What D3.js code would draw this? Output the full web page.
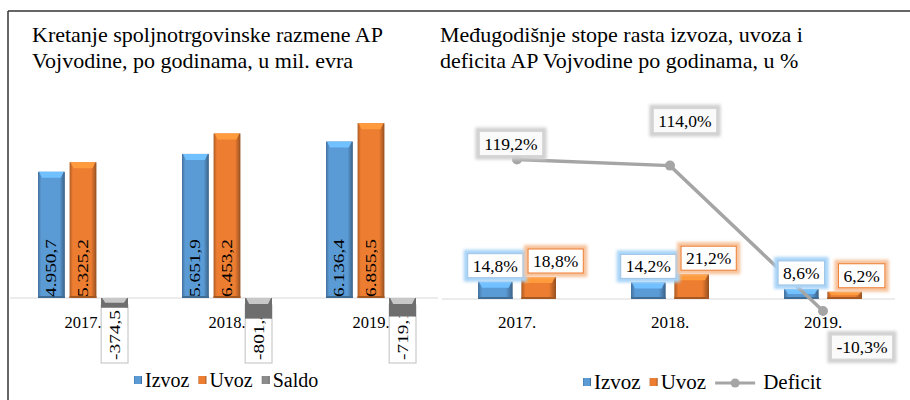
<!DOCTYPE html>
<html>
<head>
  <meta charset="utf-8">
  <title>Spoljnotrgovinska razmena AP Vojvodine</title>
  <script src="https://d3js.org/d3.v7.min.js"></script>
  <style>
    body { margin: 0; background: #fff; }
    svg text { font-family: "Liberation Serif", "Times New Roman", serif; fill: #000; }
  </style>
</head>
<body>
<script>
  // data
  var years = ["2017.", "2018.", "2019."];
  var izvoz = [4950.7, 5651.9, 6136.4];
  var uvoz = [5325.2, 6453.2, 6855.5];
  var saldo = [-374.5, -801.4, -719.1];
  var izvozRast = [14.8, 14.2, 8.6];
  var uvozRast = [18.8, 21.2, 6.2];
  var deficitRast = [119.2, 114.0, -10.3];
  // manual label shifts for the deficit labels (as placed in the original)
  var deficitLabelShift = [[-6, -16], [15, -45], [39, 36]];

  var colors = { Izvoz: "#5b9bd5", Uvoz: "#ed7d31", Saldo: "#8c8c8c", Deficit: "#a5a5a5" };

  var sr = d3.formatLocale({ decimal: ",", thousands: ".", grouping: [3], currency: ["", ""], minus: "-" });
  var fmtNum = sr.format(",.1f");
  function fmtPct(v) { return sr.format(".1f")(v) + "%"; }

  var width = 910, height = 400;
  var svg = d3.select("body").append("svg")
    .attr("width", width).attr("height", height);

  var defs = svg.append("defs");
  Object.keys(colors).forEach(function(k) {
    var c = d3.color(colors[k]);
    var g = defs.append("linearGradient").attr("id", "grad-" + k)
      .attr("x1", "0").attr("x2", "1").attr("y1", "0").attr("y2", "0");
    g.append("stop").attr("offset", "0%").attr("stop-color", c.darker(0.9));
    g.append("stop").attr("offset", "12%").attr("stop-color", c);
    g.append("stop").attr("offset", "80%").attr("stop-color", c);
    g.append("stop").attr("offset", "100%").attr("stop-color", c.darker(1.3));
  });
  var blur = defs.append("filter").attr("id", "glow")
    .attr("x", "-20%").attr("y", "-30%").attr("width", "140%").attr("height", "160%");
  blur.append("feGaussianBlur").attr("stdDeviation", 1.6);

  // frame
  svg.append("line").attr("x1", 8).attr("x2", 910).attr("y1", 11).attr("y2", 11)
    .attr("stroke", "#333").attr("stroke-width", 1.5);
  svg.append("line").attr("x1", 8).attr("x2", 8).attr("y1", 11).attr("y2", 400)
    .attr("stroke", "#333").attr("stroke-width", 1.5);

  function title(x, lines) {
    var t = svg.append("text").attr("x", x).attr("y", 42).style("font-size", "22px");
    lines.forEach(function(l, i) {
      t.append("tspan").attr("x", x).attr("dy", i ? 26 : 0).text(l);
    });
  }
  title(32, ["Kretanje spoljnotrgovinske razmene AP", "Vojvodine, po godinama, u mil. evra"]);
  title(440, ["Međugodišnje stope rasta izvoza, uvoza i", "deficita AP Vojvodine po godinama, u %"]);

  function drawBar(g, x, y0, y1, w, key) {
    var top = Math.min(y0, y1), h = Math.abs(y1 - y0);
    var c = d3.color(colors[key]);
    g.append("rect").attr("x", x).attr("y", top).attr("width", w).attr("height", h)
      .attr("fill", "url(#grad-" + key + ")");
    var bev = Math.min(6, h / 2);
    if (y1 < y0) {
      g.append("polygon")
        .attr("points", [[x + 1, top], [x + w - 1, top], [x + w - 4, top + bev], [x + 4, top + bev]].join(" "))
        .attr("fill", c.brighter(0.6));
      g.append("rect").attr("x", x).attr("y", y0 - 2).attr("width", w).attr("height", 2)
        .attr("fill", c.darker(1));
    } else {
      g.append("rect").attr("x", x).attr("y", top).attr("width", w).attr("height", h)
        .attr("fill", "#6e6e6e");
      g.append("polygon")
        .attr("points", [[x + 1, top], [x + w - 1, top], [x + w - 4, top + bev], [x + 4, top + bev]].join(" "))
        .attr("fill", "#c8c8c8");
    }
  }

  // ---------- left chart ----------
  var left = svg.append("g");
  var x0 = d3.scaleBand().domain(years).range([11, 443]);
  var x1 = d3.scaleBand().domain(["Izvoz", "Uvoz", "Saldo"]).range([-45, 45]).paddingInner(0.15);
  var y = d3.scaleLinear().domain([-1000, 7000]).range([323.5, 119.5]);

  left.append("line").attr("x1", 10).attr("x2", 438).attr("y1", y(0)).attr("y2", y(0))
    .attr("stroke", "#d9d9d9").attr("stroke-width", 1.2);

  var xAxisL = left.append("g").attr("transform", "translate(0," + 328 + ")")
    .call(d3.axisBottom(x0).tickSize(0).tickPadding(0));
  xAxisL.select(".domain").remove();
  xAxisL.selectAll("text").attr("dy", 0).style("font-size", "16.5px")
    .style("font-family", "Liberation Serif, serif").attr("fill", "#000");

  var bw = x1.bandwidth();
  // saldo label boxes (below the bars)
  years.forEach(function(yr, i) {
    var bx = x0(yr) + x0.bandwidth() / 2 + x1("Saldo");
    left.append("rect").attr("x", bx).attr("y", 305).attr("width", bw).attr("height", 58)
      .attr("fill", "#fff").attr("stroke", "#bfbfbf");
    left.append("text")
      .attr("transform", "translate(" + (bx + bw / 2 + 5) + ",335) rotate(-90) scale(1.38,1)")
      .attr("text-anchor", "middle").style("font-size", "14px").text(fmtNum(saldo[i]));
  });

  years.forEach(function(yr, i) {
    var cx = x0(yr) + x0.bandwidth() / 2;
    drawBar(left, cx + x1("Izvoz"), y(0), y(izvoz[i]), bw, "Izvoz");
    drawBar(left, cx + x1("Uvoz"), y(0), y(uvoz[i]), bw, "Uvoz");
    drawBar(left, cx + x1("Saldo"), y(0), y(saldo[i]), bw, "Saldo");
    [["Izvoz", izvoz[i]], ["Uvoz", uvoz[i]]].forEach(function(p) {
      left.append("text")
        .attr("transform", "translate(" + (cx + x1(p[0]) + bw / 2 + 5) + "," + (y(0) - 1) + ") rotate(-90) scale(1.38,1)")
        .style("font-size", "14px").text(fmtNum(p[1]));
    });
  });

  // legend
  function legend(g, x, yb, items, size) {
    items.forEach(function(it) {
      if (it.line) {
        g.append("line").attr("x1", x).attr("x2", x + 40).attr("y1", yb - 6).attr("y2", yb - 6)
          .attr("stroke", colors.Deficit).attr("stroke-width", 3);
        g.append("circle").attr("cx", x + 20).attr("cy", yb - 6).attr("r", 4.5).attr("fill", colors.Deficit);
        x += 48;
      } else {
        g.append("rect").attr("x", x).attr("y", yb - 11).attr("width", 8).attr("height", 8)
          .attr("fill", "url(#grad-" + it.key + ")");
        x += 11;
      }
      var t = g.append("text").attr("x", x).attr("y", yb).style("font-size", size + "px").text(it.key);
      x += t.node().getComputedTextLength() + 9;
    });
  }
  legend(left, 134, 387, [{ key: "Izvoz" }, { key: "Uvoz" }, { key: "Saldo" }], 20);

  // ---------- right chart ----------
  var right = svg.append("g");
  var r0 = d3.scaleBand().domain(years).range([440.5, 899.5]);
  var r1 = d3.scaleBand().domain(["Izvoz", "Uvoz"]).range([-39, 39]).paddingInner(0.2);
  var yr = d3.scaleLinear().domain([-20, 130]).range([322.4, 146.9]);
  var rbw = r1.bandwidth();

  right.append("line").attr("x1", 442).attr("x2", 895).attr("y1", yr(0)).attr("y2", yr(0))
    .attr("stroke", "#d9d9d9").attr("stroke-width", 1.2);

  var xAxisR = right.append("g").attr("transform", "translate(0," + 328 + ")")
    .call(d3.axisBottom(r0).tickSize(0).tickPadding(0));
  xAxisR.select(".domain").remove();
  xAxisR.selectAll("text").attr("dy", 0).style("font-size", "17px")
    .style("font-family", "Liberation Serif, serif").attr("fill", "#000");

  years.forEach(function(yy, i) {
    var cx = r0(yy) + r0.bandwidth() / 2;
    drawBar(right, cx + r1("Izvoz"), yr(0), yr(izvozRast[i]), rbw, "Izvoz");
    drawBar(right, cx + r1("Uvoz"), yr(0), yr(uvozRast[i]), rbw, "Uvoz");
  });

  var line = d3.line()
    .x(function(d, i) { return r0(years[i]) + r0.bandwidth() / 2; })
    .y(function(d) { return yr(d); });
  right.append("path").datum(deficitRast).attr("d", line)
    .attr("fill", "none").attr("stroke", colors.Deficit).attr("stroke-width", 3.5);
  right.selectAll(".pt").data(deficitRast).enter().append("circle")
    .attr("cx", function(d, i) { return r0(years[i]) + r0.bandwidth() / 2; })
    .attr("cy", function(d) { return yr(d); })
    .attr("r", 5).attr("fill", colors.Deficit);

  function boxLabel(g, cx, cy, txt, glow, edge, fill) {
    var t = g.append("text").attr("x", cx).attr("y", cy + 6).attr("text-anchor", "middle")
      .style("font-size", "17.5px").text(txt);
    var w = t.node().getComputedTextLength() + 10, h = 24;
    g.insert("rect", function() { return t.node(); })
      .attr("x", cx - w / 2 - 1).attr("y", cy - h / 2 - 1).attr("width", w + 2).attr("height", h + 2)
      .attr("fill", "none").attr("stroke", glow).attr("stroke-width", 6).attr("filter", "url(#glow)");
    g.insert("rect", function() { return t.node(); })
      .attr("x", cx - w / 2).attr("y", cy - h / 2).attr("width", w).attr("height", h)
      .attr("fill", fill).attr("stroke", edge).attr("stroke-width", 1);
  }

  years.forEach(function(yy, i) {
    var cx = r0(yy) + r0.bandwidth() / 2;
    boxLabel(right, cx + r1("Izvoz") + rbw / 2, yr(izvozRast[i]) - 16, fmtPct(izvozRast[i]),
      "#a9d4f7", "#9dc3e6", "#fff");
    boxLabel(right, cx + r1("Uvoz") + rbw / 2 + 17, yr(uvozRast[i]) - 16, fmtPct(uvozRast[i]),
      "#f7c39c", "#ed7d31", "#fff");
    boxLabel(right, cx + deficitLabelShift[i][0], yr(deficitRast[i]) + deficitLabelShift[i][1],
      fmtPct(deficitRast[i]), "#d0d0d0", "#d6d6d6", "#fafafa");
  });

  legend(right, 583, 389, [{ key: "Izvoz" }, { key: "Uvoz" }, { key: "Deficit", line: true }], 21);
</script>
</body>
</html>
